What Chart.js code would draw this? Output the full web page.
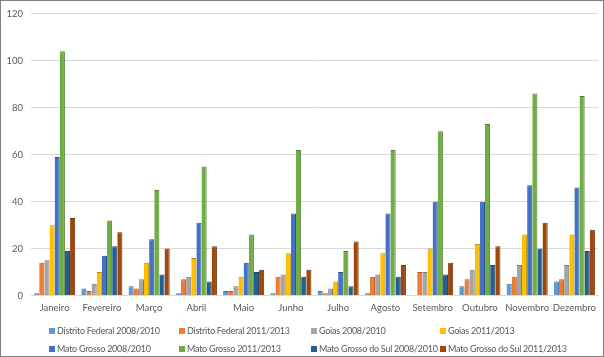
<!DOCTYPE html>
<html>
<head>
<meta charset="utf-8">
<script src="https://cdn.jsdelivr.net/npm/chart.js@4/dist/chart.umd.min.js"></script>
<style>
  html, body { margin: 0; padding: 0; background: #fff; }
  #wrap { position: relative; width: 604px; height: 357px; box-sizing: border-box; border: 1px solid #7f7f7f; overflow: hidden; }
  #c { position: absolute; left: -1px; top: -1px; }
  #legend { position: absolute; left: 0; top: 0; width: 604px; height: 357px; pointer-events: none;
            font-family: Lato, "Liberation Sans", sans-serif; font-size: 9px; letter-spacing: -0.25px; color: #595959; }
  .item { position: absolute; white-space: nowrap; line-height: 12px; }
  .sw { display: inline-block; width: 6px; height: 6px; margin-right: 2px; vertical-align: 0px; }
</style>
</head>
<body>
<div id="wrap">
  <canvas id="c" width="604" height="357"></canvas>
  <div id="legend"></div>
</div>
<script>
const months = ['Janeiro','Fevereiro','Março','Abril','Maio','Junho','Julho','Agosto','Setembro','Outubro','Novembro','Dezembro'];
const yTicks = [0, 20, 40, 60, 80, 100, 120];

const seriesNames = [
  'Distrito Federal 2008/2010', 'Distrito Federal 2011/2013',
  'Goias 2008/2010', 'Goias 2011/2013',
  'Mato Grosso 2008/2010', 'Mato Grosso 2011/2013',
  'Mato Grosso do Sul 2008/2010', 'Mato Grosso do Sul 2011/2013'
];

const df0810 = [1, 3, 4, 1, 2, 1, 2, 1, 0, 4, 5, 6];
const df1113 = [14, 2, 3, 7, 2, 8, 1, 8, 10, 7, 8, 7];
const go0810 = [15, 5, 7, 8, 4, 9, 3, 9, 10, 11, 13, 13];
const go1113 = [30, 10, 14, 16, 8, 18, 6, 18, 20, 22, 26, 26];
const mt0810 = [59, 17, 24, 31, 14, 35, 10, 35, 40, 40, 47, 46];
const mt1113 = [104, 32, 45, 55, 26, 62, 19, 62, 70, 73, 86, 85];
const ms0810 = [19, 21, 9, 6, 10, 8, 4, 8, 9, 13, 20, 19];
const ms1113 = [33, 27, 20, 21, 11, 11, 23, 13, 14, 21, 31, 28];

const seriesValues = [df0810, df1113, go0810, go1113, mt0810, mt1113, ms0810, ms1113];
const colors = ['#5B9BD5', '#ED7D31', '#A5A5A5', '#FFC000', '#4472C4', '#70AD47', '#255E91', '#9E480E'];
const borders = ['#41719C', '#AE5A21', '#787878', '#BC8C00', '#2F528F', '#507E32', '#1A4368', '#6F320A'];

const datasets = seriesNames.map((n, i) => ({
  label: n,
  data: seriesValues[i],
  backgroundColor: colors[i],
  borderColor: borders[i],
  borderWidth: { top: 1, right: 1, left: 0, bottom: 0 },
  barPercentage: 1.0,
  categoryPercentage: 0.87
}));

new Chart(document.getElementById('c'), {
  type: 'bar',
  data: { labels: months, datasets },
  options: {
    responsive: false,
    animation: false,
    layout: { padding: { top: 12, right: 6, bottom: 36, left: 0 } },
    plugins: { legend: { display: false }, tooltip: { enabled: false } },
    scales: {
      x: {
        grid: { display: false, drawTicks: false },
        border: { display: true, color: '#d9d9d9' },
        ticks: { color: '#595959', font: { family: 'Lato', size: 9.5 }, padding: 7, maxRotation: 0, autoSkip: false }
      },
      y: {
        min: 0, max: 120,
        afterFit: s => { s.width = 31; },
        afterBuildTicks: s => { s.ticks = yTicks.map(v => ({ value: v })); },
        grid: { color: '#d9d9d9', drawTicks: false },
        border: { display: false },
        ticks: { color: '#595959', font: { family: 'Lato', size: 9.5 }, padding: 8 }
      }
    }
  }
});

// HTML legend in a 4-column grid
const legend = document.getElementById('legend');
const colX = [48, 178, 310, 439];
const rowY = [324, 342];
seriesNames.forEach((n, i) => {
  const d = document.createElement('div');
  d.className = 'item';
  d.style.left = colX[i % 4] + 'px';
  d.style.top = rowY[Math.floor(i / 4)] + 'px';
  const sw = document.createElement('span');
  sw.className = 'sw';
  sw.style.background = colors[i];
  d.appendChild(sw);
  d.appendChild(document.createTextNode(n));
  legend.appendChild(d);
});
</script>
</body>
</html>
